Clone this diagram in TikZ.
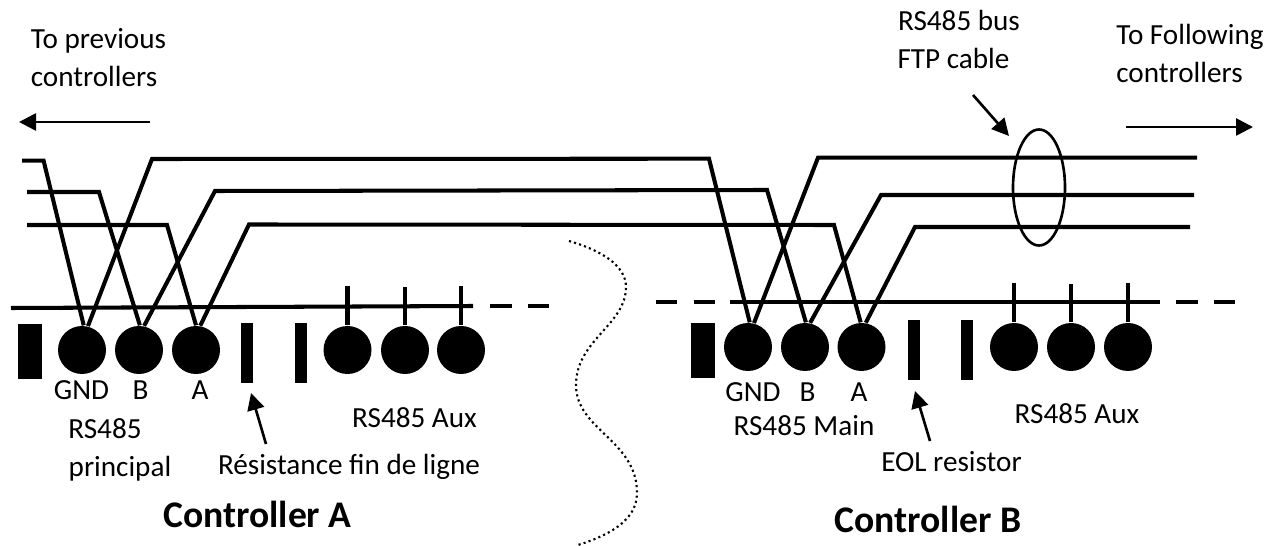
\documentclass[tikz,border=0pt]{standalone}
\usepackage{fontspec}
\setmainfont{Carlito}
\usetikzlibrary{shapes.geometric,arrows.meta}
\tikzset{
  wire/.style={line width=1.15pt},
  railend/.style={line width=1.15pt,dash pattern=on 0.215cm off 0.165cm},
  thinwire/.style={line width=0.75pt},
  pointer/.style={thinwire,-{Triangle[length=0.17cm,width=0.17cm]}},
  pin/.style={circle,fill=black,minimum size=0.48cm,inner sep=0pt},
  blockw/.style={fill=black,minimum width=0.24cm,minimum height=0.55cm,inner sep=0pt},
  blockn/.style={fill=black,minimum width=0.12cm,minimum height=0.60cm,inner sep=0pt},
  label/.style={font=\fontsize{8.3}{10.8}\selectfont,align=center,inner sep=0pt,anchor=base},
  title/.style={font=\fontsize{10.7}{12}\selectfont\bfseries,inner sep=0pt,anchor=base}
}
\begin{document}
\begin{tikzpicture}[yscale=-1]
\useasboundingbox (0,0) rectangle (12.82,5.46);
% controller A
\node[pin] (a1) at (0.82,3.50) {};
\node[pin] (a2) at (1.39,3.50) {};
\node[pin] (a3) at (1.96,3.50) {};
\node[pin] (a4) at (3.475,3.50) {};
\node[pin] (a5) at (4.05,3.50) {};
\node[pin] (a6) at (4.61,3.50) {};
\node[blockw] (a7) at (0.30,3.515) {};
\node[blockn] (a8) at (2.47,3.53) {};
\node[blockn] (a9) at (3.01,3.53) {};
% controller B
\node[pin] (b1) at (7.48,3.47) {};
\node[pin] (b2) at (8.05,3.47) {};
\node[pin] (b3) at (8.615,3.47) {};
\node[pin] (b4) at (10.14,3.47) {};
\node[pin] (b5) at (10.71,3.47) {};
\node[pin] (b6) at (11.28,3.47) {};
\node[blockw] (b7) at (7.03,3.505) {};
\node[blockn] (b8) at (9.14,3.50) {};
\node[blockn] (b9) at (9.67,3.50) {};
% rails
\coordinate (r0) at (0.11,3.08);
\coordinate (r1) at (4.73,3.06);
\coordinate (r2) at (4.90,3.06);
\coordinate (r3) at (5.49,3.06);
\coordinate (r4) at (6.555,3.02);
\coordinate (r5) at (7.30,3.02);
\coordinate (r6) at (11.595,3.02);
\coordinate (r7) at (11.76,3.02);
\coordinate (r8) at (12.35,3.02);
\draw[wire] (r0) -- (r1);
\draw[railend] (r2) -- (r3);
\draw[railend] (r4) -- (r5);
\draw[wire] (r5) -- (r6);
\draw[railend] (r7) -- (r8);
\foreach \n/\x/\y in {a4/3.475/2.857,a5/4.05/2.87,a6/4.61/2.857,b4/10.14/2.83,b5/10.71/2.84,b6/11.28/2.83} {
  \coordinate (t\n) at (\x,\y);
  \draw[wire] (t\n) -- (\n);
}
% bus from previous controllers
\coordinate (s1) at (0.22,1.607);
\coordinate (s2) at (0.27,1.92);
\coordinate (s3) at (0.27,2.25);
\coordinate (k1) at (0.436,1.607);
\coordinate (k2) at (0.99,1.92);
\coordinate (k3) at (1.67,2.25);
\draw[wire] (s1) -- (k1) -- (a1.86);
\draw[wire] (s2) -- (k2) -- (a2.88);
\draw[wire] (s3) -- (k3) -- (a3.90);
% bus between the controllers
\coordinate (m1) at (1.52,1.59);
\coordinate (m2) at (2.15,1.91);
\coordinate (m3) at (2.49,2.245);
\coordinate (n1) at (7.09,1.587);
\coordinate (n2) at (7.67,1.90);
\coordinate (n3) at (8.34,2.25);
\draw[wire] (a1.76) -- (m1) -- (n1) -- (b1.86);
\draw[wire] (a2.78) -- (m2) -- (n2) -- (b2.88);
\draw[wire] (a3.80) -- (m3) -- (n3) -- (b3.92);
% bus to following controllers
\coordinate (u1) at (8.18,1.577);
\coordinate (u2) at (8.81,1.95);
\coordinate (u3) at (9.15,2.27);
\coordinate (v1) at (11.97,1.577);
\coordinate (v2) at (11.94,1.95);
\coordinate (v3) at (11.90,2.27);
\draw[wire] (b1.76) -- (u1) -- (v1);
\draw[wire] (b2.78) -- (u2) -- (v2);
\draw[wire] (b3.80) -- (u3) -- (v3);
% cable ring
\node[draw,ellipse,thinwire,minimum width=0.52cm,minimum height=1.16cm,inner sep=0pt] (ring) at (10.39,1.875) {};
\coordinate (c0) at (9.73,0.95);
\coordinate (c1) at (10.09,1.36);
\draw[pointer] (c0) -- (c1);
% direction arrows
\coordinate (p0) at (1.50,1.22);
\coordinate (p1) at (0.19,1.22);
\draw[pointer] (p0) -- (p1);
\coordinate (f0) at (11.26,1.27);
\coordinate (f1) at (12.53,1.27);
\draw[pointer] (f0) -- (f1);
% break between controllers
\draw[line width=0.6pt,dash pattern=on 0.6pt off 0.9pt] (5.69,2.41) .. controls (6.00,2.50) and (6.26,2.65) .. (6.26,2.87) .. controls (6.26,3.25) and (5.76,3.40) .. (5.76,3.85) .. controls (5.76,4.30) and (6.37,4.40) .. (6.37,4.93) .. controls (6.37,5.20) and (6.10,5.35) .. (5.78,5.45);
% labels
\node[label] (l1a) at (0.985,0.49) {To previous};
\node[label] (l1b) at (0.94,0.87) {controllers};
\node[label] (l2a) at (9.59,0.31) {RS485 bus};
\node[label] (l2b) at (9.535,0.69) {FTP cable};
\node[label] (l3a) at (11.90,0.45) {To Following};
\node[label] (l3b) at (11.795,0.83) {controllers};
\node[label] (g1) at (0.815,3.99) {GND};
\node[label] (g2) at (1.405,3.99) {B};
\node[label] (g3) at (2.00,3.99) {A};
\node[label] (g4) at (7.53,4.02) {GND};
\node[label] (g5) at (8.075,4.02) {B};
\node[label] (g6) at (8.59,4.02) {A};
\node[label] (l4a) at (1.05,4.39) {RS485};
\node[label] (l4b) at (1.20,4.77) {principal};
\node[label] (l5) at (4.145,4.27) {RS485 Aux};
\node[label] (l6) at (8.04,4.36) {RS485 Main};
\node[label] (l7) at (10.77,4.23) {RS485 Aux};
\node[label] (l8) at (3.49,4.74) {Résistance fin de ligne};
\node[label] (l9) at (9.515,4.71) {EOL resistor};
\node[title] (ca) at (2.575,5.27) {Controller A};
\node[title] (cb) at (9.28,5.32) {Controller B};
\coordinate (e0) at (2.66,4.44);
\coordinate (e1) at (2.51,3.93);
\draw[pointer] (e0) -- (e1);
\coordinate (h0) at (9.30,4.41);
\coordinate (h1) at (9.15,3.91);
\draw[pointer] (h0) -- (h1);
\end{tikzpicture}
\end{document}
